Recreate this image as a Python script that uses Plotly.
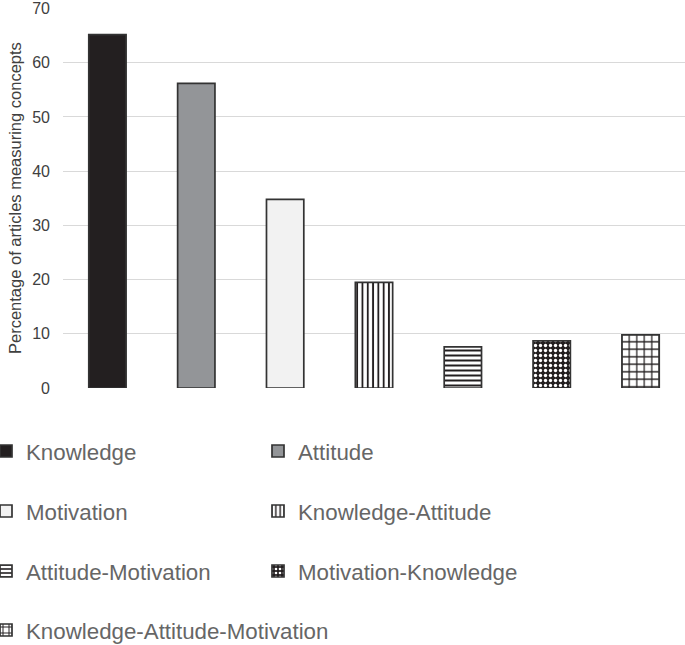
import plotly.graph_objects as go

categories = ["Knowledge", "Attitude", "Motivation", "Knowledge-Attitude",
              "Attitude-Motivation", "Motivation-Knowledge",
              "Knowledge-Attitude-Motivation"]
values = [65.2, 56.2, 34.8, 19.5, 7.6, 8.7, 9.8]
y_ticks = [0, 10, 20, 30, 40, 50, 60, 70]
y_title = "Percentage of articles measuring concepts"

W, H = 685, 645
ML, MR, MT, MB = 63, 0, 8, 257
PW, PH = W - ML - MR, H - MT - MB
FONT = "Liberation Sans, Arial, sans-serif"
fills = ["#231f20", "#939598", "#f2f2f2", "#ffffff", "#ffffff", "#231f20", "#ffffff"]
patterns = [
    dict(shape=""),
    dict(shape=""),
    dict(shape=""),
    dict(shape="|", fgcolor="#231f20", bgcolor="#ffffff", size=5.3, solidity=0.35, fillmode="replace"),
    dict(shape="-", fgcolor="#231f20", bgcolor="#ffffff", size=5, solidity=0.4, fillmode="replace"),
    dict(shape=".", fgcolor="#ffffff", bgcolor="#231f20", size=5, solidity=0.35, fillmode="replace"),
    dict(shape="+", fgcolor="#231f20", bgcolor="#ffffff", size=7.5, solidity=0.3, fillmode="replace"),
]
# legend positions (swatch left px, row center px from top)
leg_pos = [(0, 451), (272, 451), (0, 511), (272, 511), (0, 571), (272, 571), (0, 630)]
SWATCH_OFFSET = 14  # plotly puts the swatch ~14px right of the legend edge

fig = go.Figure()
legend_layouts = {}
for i, (cat, val) in enumerate(zip(categories, values)):
    lname = "legend" if i == 0 else f"legend{i+1}"
    fig.add_trace(go.Bar(
        x=[cat], y=[val], name=cat, width=0.42,
        marker=dict(color=fills[i], line=dict(color="#333333", width=1.7),
                    pattern=patterns[i]),
        legend=lname, showlegend=True,
    ))
    lx, ly = leg_pos[i]
    legend_layouts[lname] = dict(
        x=(lx - SWATCH_OFFSET - ML) / PW, y=(H - MB - ly) / PH,
        xref="paper", yref="paper",
        xanchor="left", yanchor="middle", bgcolor="rgba(0,0,0,0)",
        font=dict(family=FONT, size=22.3, color="#666666"),
        itemwidth=30, tracegroupgap=0,
    )

fig.update_layout(
    width=W, height=H,
    margin=dict(l=ML, r=MR, t=MT, b=MB, autoexpand=False),
    paper_bgcolor="white", plot_bgcolor="white",
    barmode="overlay",
    font=dict(family=FONT, color="#404040"),
    xaxis=dict(categoryorder="array", categoryarray=categories,
               range=[-0.5, len(categories) - 0.5],
               showticklabels=False, showgrid=False, zeroline=False, showline=False),
    yaxis=dict(range=[0, 70.1], tickvals=y_ticks, ticktext=[str(t) for t in y_ticks],
               showgrid=True, gridcolor="#d9d9d9", gridwidth=1, zeroline=False,
               showline=False, tickfont=dict(size=16, color="#404040"),
               ticklabelstandoff=12),
    annotations=[dict(text=y_title, textangle=-90, xref="paper", yref="paper",
                      x=0, y=0.5, xanchor="center", yanchor="middle",
                      xshift=-48, showarrow=False,
                      font=dict(family=FONT, size=16.5, color="#404040"))],
    **legend_layouts,
)

fig.write_html("out.html", config={"displayModeBar": False},
               post_script="document.body.style.margin='0';document.body.style.padding='0';")
